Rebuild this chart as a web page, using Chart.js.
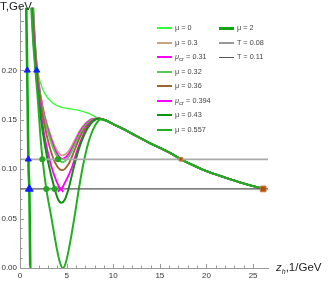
<!DOCTYPE html>
<html>
<head>
<meta charset="utf-8">
<script src="https://cdn.jsdelivr.net/npm/chart.js@4.4.1/dist/chart.umd.min.js"></script>
<style>
  body { margin: 0; background: #fff; font-family: "Liberation Sans", Arial, sans-serif; }
  #wrap { position: relative; width: 329px; height: 282px; }
  .lbl { position: absolute; color: #222; white-space: nowrap; }
  .leg { position: absolute; font-size: 7.3px; color: #444; white-space: nowrap; line-height: 8px; }
  .leg span.sw { display: inline-block; vertical-align: middle; width: 15px; margin-right: 3px; }
</style>
</head>
<body>
<div id="wrap">
  <canvas id="chart"></canvas>
  <div class="lbl" style="left:0px;top:0px;font-size:11.5px;">T,GeV</div>
  <div class="lbl" style="left:276px;top:261px;font-size:11.5px;"><i>z</i><sub style="font-size:7px;"><i>h</i></sub>,1/GeV</div>
  <div id="legend"></div>
</div>
<script>
// common large-z tail shared by all curves (z_h in 1/GeV, T in GeV)
const zTail = [10, 11, 12, 13, 14, 15, 16, 17.26, 18, 20, 22, 24, 26.3];
const tTail = [0.1455, 0.141, 0.136, 0.131, 0.126, 0.1215, 0.117, 0.110, 0.1065, 0.098, 0.0915, 0.0855, 0.0795];

const zMu0 = [1.38, 1.47, 1.6, 1.75, 1.95, 2.2, 2.7, 3.5, 4.5, 5.4, 6.3, 7.2, 8.0, 8.7, 9.3];
const tMu0 = [0.285, 0.264, 0.235, 0.213, 0.198, 0.187, 0.176, 0.167, 0.1625, 0.161, 0.1595, 0.157, 0.1535, 0.1505, 0.1485];

const zMu030 = [1.32, 1.41, 1.6, 1.85, 2.2, 2.65, 3.3, 3.9, 4.55, 5.2, 5.8, 6.4, 7.0, 7.7, 8.5, 9.3];
const tMu030 = [0.285, 0.264, 0.23, 0.2, 0.176, 0.154, 0.134, 0.120, 0.114, 0.118, 0.128, 0.139, 0.146, 0.151, 0.1515, 0.149];

const zMu031 = [1.3, 1.39, 1.58, 1.83, 2.2, 2.65, 3.3, 3.9, 4.55, 5.2, 5.8, 6.4, 7.0, 7.7, 8.5, 9.3];
const tMu031 = [0.285, 0.264, 0.23, 0.2, 0.174, 0.152, 0.131, 0.117, 0.1105, 0.115, 0.125, 0.137, 0.145, 0.1505, 0.1515, 0.149];

const zMu032 = [1.28, 1.37, 1.57, 1.82, 2.2, 2.65, 3.3, 3.9, 4.55, 5.2, 5.8, 6.4, 7.0, 7.7, 8.5, 9.3];
const tMu032 = [0.285, 0.264, 0.23, 0.2, 0.172, 0.15, 0.128, 0.114, 0.107, 0.112, 0.123, 0.135, 0.144, 0.150, 0.1515, 0.149];

const zMu036 = [1.24, 1.33, 1.55, 1.8, 2.15, 2.6, 3.2, 3.8, 4.5, 5.2, 5.8, 6.4, 7.0, 7.7, 8.5, 9.3];
const tMu036 = [0.285, 0.264, 0.23, 0.2, 0.172, 0.146, 0.122, 0.106, 0.099, 0.105, 0.118, 0.132, 0.142, 0.149, 0.1515, 0.149];

const zMu0394 = [1.2, 1.3, 1.5, 1.75, 2.1, 2.6, 3.3, 3.95, 4.4, 4.85, 5.5, 6.1, 6.7, 7.4, 8.3, 9.3];
const tMu0394 = [0.285, 0.264, 0.23, 0.2, 0.168, 0.135, 0.105, 0.087, 0.080, 0.087, 0.1, 0.118, 0.133, 0.145, 0.151, 0.149];

const zMu043 = [1.16, 1.25, 1.45, 1.7, 2.0, 2.4, 2.95, 3.72, 4.1, 4.45, 4.8, 5.2, 5.8, 6.3, 6.9, 7.6, 8.4, 9.3];
const tMu043 = [0.285, 0.264, 0.23, 0.2, 0.17, 0.14, 0.11, 0.08, 0.069, 0.066, 0.069, 0.08, 0.103, 0.12, 0.135, 0.146, 0.151, 0.149];

const zMu0557 = [1.1, 1.2, 1.4, 1.65, 1.9, 2.2, 2.42, 2.82, 3.35, 3.9, 4.3, 4.6, 4.9, 5.3, 5.85, 6.4, 6.9, 7.5, 8.1, 8.7, 9.3];
const tMu0557 = [0.285, 0.264, 0.23, 0.2, 0.172, 0.132, 0.11, 0.08, 0.052, 0.022, 0.005, 0.0, 0.005, 0.022, 0.052, 0.085, 0.11, 0.132, 0.145, 0.1505, 0.149];

const zMu2 = [0.63, 0.69, 0.77, 0.82, 0.875, 0.92, 1.0, 1.05, 1.09, 1.12];
const tMu2 = [0.3, 0.25, 0.2, 0.165, 0.127, 0.1, 0.08, 0.045, 0.01, -0.02];

// horizontal temperature levels
const zLevel = [0, 26.6];
const tLevels = [0.08, 0.11];

// markers
const zTri = [0.78, 1.79, 0.89, 1.0];
const tTri = [0.2, 0.2, 0.11, 0.08];
const zDot = [2.39, 4.07, 2.82, 3.72];
const tDot = [0.11, 0.11, 0.08, 0.08];
const zCross = [4.36];
const tCross = [0.08];
const zSq = [17.26, 26.08];
const tSq = [0.11, 0.08];

function pts(zs, ts) {
    return zs.map((z, i) => ({ x: z, y: ts[i] }));
}
function withTail(zs, ts) {
    return pts(zs, ts).concat(pts(zTail, tTail));
}
function curve(label, zs, ts, color, width, order) {
    return {
        label: label, data: withTail(zs, ts), borderColor: color, backgroundColor: color,
        borderWidth: width, pointRadius: 0, cubicInterpolationMode: 'monotone', fill: false, order: order
    };
}

const datasets = [
    curve('μ = 0', zMu0, tMu0, '#33ff33', 1.3, 20),
    curve('μ = 0.3', zMu030, tMu030, '#c9a27f', 1.8, 19),
    curve('μcr = 0.31', zMu031, tMu031, '#ff00ff', 1.8, 18),
    curve('μ = 0.32', zMu032, tMu032, '#55c855', 1.8, 17),
    curve('μ = 0.36', zMu036, tMu036, '#a0642d', 1.8, 16),
    curve('μcr = 0.394', zMu0394, tMu0394, '#ff00ff', 1.8, 15),
    curve('μ = 0.43', zMu043, tMu043, '#109010', 2, 14),
    curve('μ = 0.557', zMu0557, tMu0557, '#22b022', 2, 13),
    { label: 'μ = 2', data: pts(zMu2, tMu2), borderColor: '#10a810', borderWidth: 2.6, pointRadius: 0,
      cubicInterpolationMode: 'monotone', order: 12 },
    { label: 'T = 0.08', data: pts(zLevel, [tLevels[0], tLevels[0]]), borderColor: '#555', borderWidth: 1.2, pointRadius: 0, order: 5 },
    { label: 'T = 0.11', data: pts(zLevel, [tLevels[1], tLevels[1]]), borderColor: '#aaa', borderWidth: 1.8, pointRadius: 0, order: 5 },
    { label: 'tri', data: pts(zTri, tTri), showLine: false, pointStyle: 'triangle', pointRadius: [3.5, 3.5, 3.5, 4.5],
      backgroundColor: '#1020ff', borderColor: '#1020ff', borderWidth: 1, clip: false, order: 1 },
    { label: 'dot', data: pts(zDot, tDot), showLine: false, pointStyle: 'circle', pointRadius: 3,
      backgroundColor: '#20a820', borderColor: '#20a820', borderWidth: 0, clip: false, order: 1 },
    { label: 'cross', data: pts(zCross, tCross), showLine: false, pointStyle: 'crossRot', pointRadius: 4,
      borderColor: '#ff00ff', borderWidth: 2, clip: false, order: 1 },
    { label: 'sq', data: pts(zSq, tSq), showLine: false, pointStyle: 'rect', pointRadius: [2.5, 4],
      backgroundColor: '#a9520e', borderColor: '#c87a3a', borderWidth: 1, clip: false, order: 1 }
];

// Mathematica-like inward ticks on both axes
const innerTicks = {
    id: 'innerTicks',
    afterDraw(chart) {
        const { ctx, scales } = chart;
        const xs = scales.x, ys = scales.y;
        ctx.save();
        ctx.strokeStyle = '#999';
        ctx.lineWidth = 1;
        xs.ticks.forEach(t => {
            if (Math.abs(t.value - Math.round(t.value)) > 1e-6) return;
            const px = Math.round(xs.getPixelForValue(t.value)) + 0.5;
            const len = t.value % 5 === 0 ? 4 : 2.5;
            ctx.beginPath();
            ctx.moveTo(px, ys.bottom);
            ctx.lineTo(px, ys.bottom - len);
            ctx.stroke();
        });
        ys.ticks.forEach(t => {
            const k = t.value / 0.01;
            if (Math.abs(k - Math.round(k)) > 1e-6) return;
            const py = Math.round(ys.getPixelForValue(t.value)) + 0.5;
            const major = Math.round(k) % 5 === 0;
            ctx.beginPath();
            ctx.moveTo(xs.left, py);
            ctx.lineTo(xs.left + (major ? 4 : 2.5), py);
            ctx.stroke();
        });
        ctx.restore();
    }
};

new Chart(document.getElementById('chart'), {
    type: 'line',
    data: { datasets: datasets },
    options: {
        responsive: true,
        maintainAspectRatio: false,
        animation: false,
        layout: { padding: { left: 0, right: 61, top: 1, bottom: 0 } },
        plugins: { legend: { display: false }, tooltip: { enabled: false } },
        scales: {
            x: {
                type: 'linear', min: 0, max: 26.6,
                afterFit: s => { s.height = 14; },
                grid: { drawOnChartArea: false, drawTicks: false },
                border: { color: '#999' },
                ticks: {
                    stepSize: 1, autoSkip: false, maxRotation: 0, maxTicksLimit: 100, padding: 3,
                    color: '#333', font: { size: 8, family: 'Liberation Sans' },
                    callback: v => (Math.abs(v % 5) < 1e-6 ? String(v) : '')
                }
            },
            y: {
                type: 'linear', min: 0, max: 0.2633,
                afterFit: s => { s.width = 20; },
                grid: { drawOnChartArea: false, drawTicks: false },
                border: { color: '#999' },
                ticks: {
                    stepSize: 0.01, autoSkip: false, maxTicksLimit: 100, padding: 3,
                    color: '#333', font: { size: 8, family: 'Liberation Sans' },
                    callback: v => {
                        const k = v / 0.05;
                        return (Math.abs(k - Math.round(k)) < 1e-6 && v < 0.21) ? v.toFixed(2) : '';
                    }
                }
            }
        }
    },
    plugins: [innerTicks]
});

// two-column legend placed inside the plot, as in the original
const legendCol1 = [
    ['μ = 0', '#33ff33', 2], ['μ = 0.3', '#c9a27f', 2], ['<i>μ</i><sub>cr</sub> = 0.31', '#ff00ff', 2],
    ['μ = 0.32', '#55c855', 2], ['μ = 0.36', '#a0642d', 2], ['<i>μ</i><sub>cr</sub> = 0.394', '#ff00ff', 2],
    ['μ = 0.43', '#109010', 2], ['μ = 0.557', '#22b022', 2]
];
const legendCol2 = [['μ = 2', '#10a810', 3], ['T = 0.08', '#999', 2], ['T = 0.11', '#555', 1]];
let html = '';
legendCol1.forEach((it, i) => {
    html += `<div class="leg" style="left:157px;top:${24 + i * 14.55}px;"><span class="sw" style="height:${it[2]}px;background:${it[1]};"></span>${it[0]}</div>`;
});
legendCol2.forEach((it, i) => {
    html += `<div class="leg" style="left:219px;top:${24 + i * 14.55}px;"><span class="sw" style="height:${it[2]}px;background:${it[1]};"></span>${it[0]}</div>`;
});
document.getElementById('legend').innerHTML = html;
</script>
</body>
</html>
